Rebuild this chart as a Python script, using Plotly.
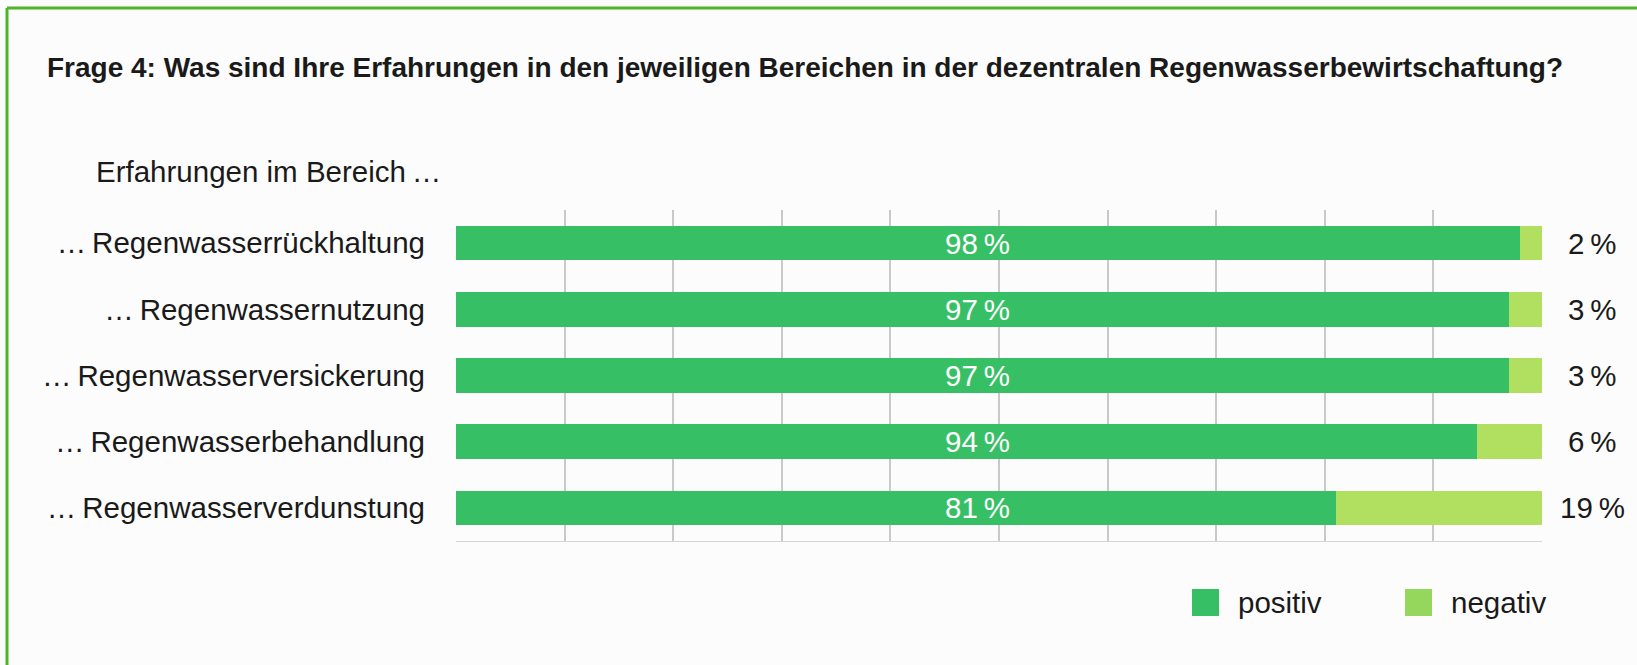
import plotly.graph_objects as go

categories = ['…\u2009Regenwasserrückhaltung', '…\u2009Regenwassernutzung', '…\u2009Regenwasserversickerung',
              '…\u2009Regenwasserbehandlung', '…\u2009Regenwasserverdunstung']
positiv = [98, 97, 97, 94, 81]
negativ = [2, 3, 3, 6, 19]

W, H = 1637, 665
L, R, T, B = 456, 95, 210, 124
GREEN = '#37bf66'
LIGHT = '#b1df5f'
FONT = 'Liberation Sans, Arial, sans-serif'
FS = 29.5


def px(x):
    # page pixel -> paper x
    return (x - L) / (W - L - R)


def py(y):
    # page pixel -> paper y
    return (H - B - y) / (H - T - B)


fig = go.Figure()
fig.add_trace(go.Bar(y=categories, x=positiv, orientation='h', name='positiv',
                     marker=dict(color=GREEN, line=dict(width=0)), hoverinfo='x+y'))
fig.add_trace(go.Bar(y=categories, x=negativ, orientation='h', name='negativ',
                     marker=dict(color=LIGHT, line=dict(width=0)), hoverinfo='x+y'))

# percent labels
for cat, p, n in zip(categories, positiv, negativ):
    fig.add_annotation(x=48, y=cat, xref='x', yref='y', xanchor='center', text=f'{p}\u2009%',
                       showarrow=False, font=dict(family=FONT, size=FS, color='white'))
    fig.add_annotation(x=px(1592), y=cat, xref='paper', yref='y', xanchor='center', text=f'{n}\u2009%',
                       showarrow=False, font=dict(family=FONT, size=FS, color='#1a1a1a'))

fig.add_annotation(x=px(94), y=py(171), xref='paper', yref='paper', xanchor='left', yanchor='middle',
                   text='Erfahrungen im Bereich\u2009…', showarrow=False,
                   font=dict(family=FONT, size=FS, color='#1a1a1a'))

# legend drawn by hand (bigger squares than plotly's legend allows)
for x0, col, label in [(1192, GREEN, 'positiv'), (1405, '#95d75c', 'negativ')]:
    fig.add_shape(type='rect', xref='paper', yref='paper', x0=px(x0), x1=px(x0 + 27),
                  y0=py(616), y1=py(589), fillcolor=col, line=dict(width=0))
    fig.add_annotation(x=px(x0 + 44), y=py(602), xref='paper', yref='paper', xanchor='left',
                       yanchor='middle', text=label, showarrow=False,
                       font=dict(family=FONT, size=FS, color='#1a1a1a'))

# green frame (top and left edges only visible)
fig.add_shape(type='line', xref='paper', yref='paper', x0=px(7), x1=px(W + 10), y0=py(8), y1=py(8),
              line=dict(color='#4db52a', width=3))
fig.add_shape(type='line', xref='paper', yref='paper', x0=px(7), x1=px(7), y0=py(8), y1=py(H + 10),
              line=dict(color='#4db52a', width=3))

fig.update_layout(
    width=W, height=H,
    margin=dict(l=L, r=R, t=T, b=B),
    barmode='stack', bargap=0.48,
    showlegend=False,
    paper_bgcolor='#fcfcfc', plot_bgcolor='#fcfcfc',
    title=dict(text='<b>Frage 4: Was sind Ihre Erfahrungen in den jeweiligen Bereichen in der dezentralen Regenwasserbewirtschaftung?</b>',
               x=47 / W, xanchor='left', y=1 - 67 / H, yanchor='middle', xref='container', yref='container',
               font=dict(family=FONT, size=28, color='#1a1a1a')),
    xaxis=dict(range=[0, 100], dtick=10, showticklabels=False, showgrid=True,
               gridcolor='#c9c9c9', gridwidth=2, zeroline=False,
               showline=True, linecolor='#d5d5d5', linewidth=1, fixedrange=True),
    yaxis=dict(autorange='reversed', showgrid=False, zeroline=False, ticks='',
               ticklabelstandoff=30, showline=False, fixedrange=True,
               tickfont=dict(family=FONT, size=FS, color='#1a1a1a')),
)

# drop the default body margin so the figure sits at the page corner
fig.write_html('out.html', config={'displayModeBar': False},
               post_script="document.body.style.margin='0';document.body.style.overflow='hidden';")
